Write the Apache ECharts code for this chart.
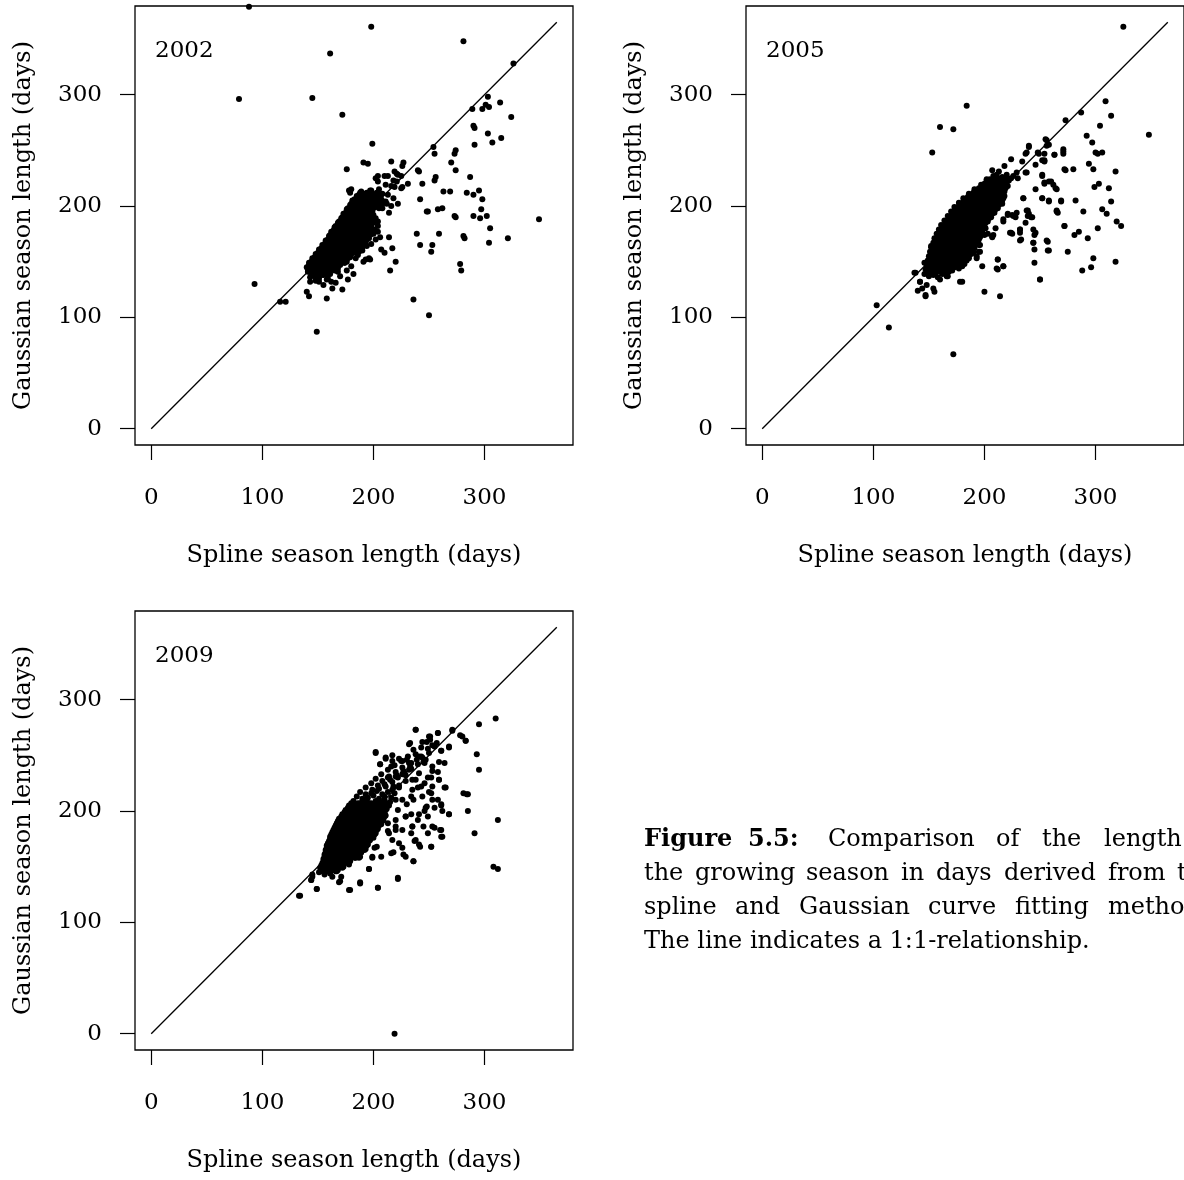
<!DOCTYPE html>
<html><head><meta charset="utf-8">
<script src="https://cdn.jsdelivr.net/npm/echarts@6/dist/echarts.min.js"></script>
<style>html,body{margin:0;padding:0;background:#fff}#c{width:1184px;height:1180px}</style>
</head><body><div id="c"></div>
<script>
const tickValues = [0, 100, 200, 300];
const axisMin = -14.6, axisMax = 379.6;
const oneToOne = [[0, 0], [365, 365]];
const panelYears = ['2002', '2005', '2009'];
const xTitle = 'Spline season length (days)';
const yTitle = 'Gaussian season length (days)';

// [spline length, gaussian length] pairs, 2002
const p2002 = [
[88,379],[198,361],[281,348],[161,337],[326,328],[79,296],[145,297],[172,282],[303,298],[314,293],[301,291],[304,289],[298,287],[289,287],[324,280],[290,272],[291,270],[303,265],[315,261],[307,257],[291,255],[199,256],[254,253],[255,247],[274,250],[273,247],[270,239],[274,232],[287,226],[241,231],[244,220],[255,223],[256,226],[263,213],[269,213],[284,212],[290,210],[295,214],[298,206],[242,206],[249,195],[258,197],[262,198],[297,197],[274,190],[290,191],[296,189],[302,191],[305,180],[349,188],[239,175],[242,165],[253,165],[252,159],[259,175],[281,173],[282,171],[304,167],[321,171],[278,148],[279,142],[236,116],[250,102],[149,87],[93,130],[116,114],[121,114],
[215,142],[220,150],[210,158],[217,162],[207,161],[214,172],[222,202],[176,233],[191,239],[195,238],[216,240],[227,239],[226,236],[219,231],[222,228],[225,227],[202,225],[210,227],[204,222],[231,220],[225,216],[218,223],[178,214],[188,212],[179,212],[196,212],[205,215],[218,207],[212,202],[172,125],[163,126],[158,117],[142,119],[140,123],[143,132],[182,139],[197,152],[191,150],[193,152],
[221,229],[213,227],[204,227],[211,219],[216,218],[221,222],[180,215],[197,214],[213,210],[219,217],[226,217],[273,191],[206,172],[204,177],[196,153],[168,141],[142,147],[141,143],[144,138],[174,149],[184,153],[202,170],[198,182],[204,186],[214,194],[216,200],[211,204],[208,198],[202,203],[151,132],[159,135],[166,131],[177,134],[240,232],[248,195],
[186,156],[190,160],[194,164],[198,166],[180,146],[176,142],[170,137],[162,132],[155,129],[200,175],[204,182],[148,133],[152,140],
// dense core
[143,136],[147,137],[151,135],[155,138],[158,134],
[145,138],[149,139],[153,138],[157,139],
[141,141],[145,140],[149,142],[153,140],[157,141],[161,139],[165,142],
[143,142],[147,143],[151,142],[155,143],[159,142],[163,143],[167,142],
[140,145],[144,144],[148,146],[152,144],[156,145],[160,143],[164,146],[168,144],
[142,146],[146,147],[150,146],[154,147],[158,146],[162,147],[166,146],[170,147],
[142,149],[146,148],[150,150],[154,148],[158,149],[162,147],[166,150],[170,148],[174,149],
[144,150],[148,151],[152,150],[156,151],[160,150],[164,151],[168,150],[172,151],[176,150],
[145,153],[149,152],[153,154],[157,152],[161,153],[165,151],[169,154],[173,152],[177,153],
[147,154],[151,155],[155,154],[159,155],[163,154],[167,155],[171,154],[175,155],[179,154],
[148,157],[152,156],[156,158],[160,156],[164,157],[168,155],[172,158],[176,156],[180,157],
[150,158],[154,159],[158,158],[162,159],[166,158],[170,159],[174,158],[178,159],[182,158],[185,158],
[151,161],[155,160],[159,162],[163,160],[167,161],[171,159],[175,162],[179,160],[183,161],[187,159],
[153,162],[157,163],[161,162],[165,163],[169,162],[173,163],[177,162],[181,163],[185,162],[188,162],
[154,165],[158,164],[162,166],[166,164],[170,165],[174,163],[178,166],[182,164],[186,165],[190,163],
[156,166],[160,167],[164,166],[168,167],[172,166],[176,167],[180,166],[184,167],[188,166],[191,166],
[157,169],[161,168],[165,170],[169,168],[173,169],[177,167],[181,170],[185,168],[189,169],[193,167],
[159,170],[163,171],[167,170],[171,171],[175,170],[179,171],[183,170],[187,171],[191,170],[194,170],
[160,173],[164,172],[168,174],[172,172],[176,173],[180,171],[184,174],[188,172],[192,173],[196,171],
[161,174],[165,175],[169,174],[173,175],[177,174],[181,175],[185,174],[189,175],[193,174],[197,174],
[162,177],[166,176],[170,178],[174,176],[178,177],[182,175],[186,178],[190,176],[194,177],[198,175],
[164,178],[168,179],[172,178],[176,179],[180,178],[184,179],[188,178],[192,179],[196,178],[199,178],
[165,181],[169,180],[173,182],[177,180],[181,181],[185,179],[189,182],[193,180],[197,181],[201,179],
[166,182],[170,183],[174,182],[178,183],[182,182],[186,183],[190,182],[194,183],[198,182],
[168,185],[172,184],[176,186],[180,184],[184,185],[188,183],[192,186],[196,184],[200,185],
[169,186],[173,187],[177,186],[181,187],[185,186],[189,187],[193,186],[197,187],[201,186],
[171,189],[175,188],[179,190],[183,188],[187,189],[191,187],[195,190],[199,188],[202,189],
[172,190],[176,191],[180,190],[184,191],[188,190],[192,191],[196,190],[200,190],
[173,193],[177,192],[181,194],[185,192],[189,193],[193,191],[197,194],[200,192],
[175,194],[179,195],[183,194],[187,195],[191,194],[195,195],[199,195],
[176,197],[180,196],[184,198],[188,196],[192,197],[196,195],[200,198],[204,199],
[177,198],[181,199],[185,198],[189,199],[193,198],[197,199],[201,199],[205,198],
[179,201],[183,200],[187,202],[191,200],[195,201],[199,199],[203,202],[207,200],
[180,202],[184,203],[188,202],[192,203],[196,202],[200,203],[204,203],[208,202],
[181,205],[185,204],[189,206],[193,204],[197,205],[201,203],[205,206],[209,204],
[183,206],[187,207],[191,206],[195,207],[199,206],[203,207],[207,206],
[185,209],[189,208],[193,210],[197,208],[201,209],[205,207],
[187,210],[191,211],[195,210],[199,211],[203,210],[206,210],
[189,213],[194,212],[198,214],[203,212],[208,211]
];

// 2005
const p2005 = [
[325,361],[184,290],[160,271],[172,269],[153,248],[309,294],[314,281],[287,284],[273,277],[304,272],[348,264],[292,263],[297,257],[300,248],[302,247],[306,248],[256,259],[256,254],[240,253],[237,247],[249,247],[254,247],[263,246],[271,249],[271,247],[246,237],[252,241],[254,241],[273,232],[280,233],[294,238],[298,233],[318,231],[237,230],[252,227],[258,222],[262,219],[254,220],[265,215],[246,215],[303,220],[299,217],[312,216],[235,207],[252,207],[258,204],[269,204],[282,205],[314,204],[306,197],[310,193],[289,195],[265,196],[266,194],[239,196],[240,193],[242,190],[221,193],[225,192],[228,190],[237,185],[217,186],[319,186],[323,182],[302,180],[272,182],[285,177],[281,174],[293,171],[223,176],[225,175],[232,179],[232,176],[232,169],[244,179],[245,174],[244,167],[256,169],[245,161],[258,160],[275,159],[245,149],[250,134],[288,142],[296,145],[298,153],[318,150],[212,152],[212,143],[217,146],[198,146],[200,123],[214,119],[193,155],[195,159],[195,165],[201,180],[208,174],[207,172],[200,174],[172,67],[103,111],[114,91],[138,140],[140,124],[144,126],[147,119],[154,126],[155,123],[180,132],[160,134],[148,129],[142,132],[146,149],[152,164],
[137,140],[142,132],[147,120],[178,132],[167,137],[212,152],[211,144],[217,146],[250,134],[193,153],[196,159],[196,165],[207,173],[203,175],[210,180],[217,188],[221,192],[226,191],[229,194],[238,196],[239,191],[243,190],[235,207],[252,207],[258,205],[269,205],[265,195],[272,182],[244,167],[246,176],[257,168],[257,160],[232,179],[233,170],[224,176],[226,227],[230,225],[229,230],[224,242],[234,240],[238,248],[240,254],[248,248],[254,240],[263,246],[255,260],[258,255],[271,251],[272,233],[252,228],[254,221],[260,222],[264,216],[238,230],[211,228],[202,224],[213,231],[218,236],[207,232],
// dense core
[146,139],[150,137],[154,138],[158,136],[162,139],[166,137],
[148,140],[152,141],[156,140],[160,141],[164,140],[168,141],
[147,143],[151,141],[155,142],[159,144],[163,141],[167,143],[171,142],
[149,145],[153,144],[157,145],[161,144],[165,145],[169,144],[173,145],[177,144],
[148,147],[152,145],[156,146],[160,148],[164,145],[168,147],[172,146],[176,148],[180,146],
[150,148],[154,149],[158,148],[162,149],[166,148],[170,149],[174,148],[178,149],[182,148],
[149,151],[153,149],[157,150],[161,152],[165,149],[169,151],[173,150],[177,152],[181,150],[184,151],
[151,152],[155,153],[159,152],[163,153],[167,152],[171,153],[175,152],[179,153],[183,152],[186,153],
[150,155],[154,153],[158,154],[162,156],[166,153],[170,155],[174,154],[178,156],[182,153],[186,155],
[152,156],[156,157],[160,156],[164,157],[168,156],[172,157],[176,156],[180,157],[184,156],[188,157],
[151,159],[155,157],[159,158],[163,160],[167,157],[171,159],[175,158],[179,160],[183,157],[187,159],[190,158],
[153,160],[157,161],[161,160],[165,161],[169,160],[173,161],[177,160],[181,161],[185,160],[189,161],
[152,163],[156,161],[160,162],[164,164],[168,161],[172,163],[176,162],[180,164],[184,161],[188,163],[191,162],
[155,164],[159,165],[163,164],[167,165],[171,164],[175,165],[179,164],[183,165],[187,164],[191,165],
[154,167],[158,165],[162,166],[166,168],[170,165],[174,167],[178,166],[182,168],[186,165],[190,167],[193,166],
[156,168],[160,169],[164,168],[168,169],[172,168],[176,169],[180,168],[184,169],[188,168],[192,169],[194,168],
[155,171],[159,169],[163,170],[167,172],[171,169],[175,171],[179,170],[183,172],[187,169],[191,171],[195,170],
[158,172],[162,173],[166,172],[170,173],[174,172],[178,173],[182,172],[186,173],[190,172],[194,173],[196,172],
[157,175],[161,173],[165,174],[169,176],[173,173],[177,175],[181,174],[185,176],[189,173],[193,175],[197,174],
[160,176],[164,177],[168,176],[172,177],[176,176],[180,177],[184,176],[188,177],[192,176],[196,177],[198,176],
[159,179],[163,177],[167,178],[171,180],[175,177],[179,179],[183,178],[187,180],[191,177],[195,179],[198,178],
[162,180],[166,181],[170,180],[174,181],[178,180],[182,181],[186,180],[190,181],[194,180],[198,181],[200,180],
[161,183],[165,181],[169,182],[173,184],[177,181],[181,183],[185,182],[189,184],[193,181],[197,183],[200,182],
[165,184],[169,185],[173,184],[177,185],[181,184],[185,185],[189,184],[193,185],[197,184],[201,185],
[164,187],[168,185],[172,186],[176,188],[180,185],[184,187],[188,186],[192,188],[196,185],[200,187],[203,186],
[168,188],[172,189],[176,188],[180,189],[184,188],[188,189],[192,188],[196,189],[200,188],[204,189],
[167,191],[171,189],[175,190],[179,192],[183,189],[187,191],[191,190],[195,192],[199,189],[203,191],[206,190],
[171,192],[175,193],[179,192],[183,193],[187,192],[191,193],[195,192],[199,193],[203,192],[207,193],
[170,195],[174,193],[178,194],[182,196],[186,193],[190,195],[194,194],[198,196],[202,193],[206,195],[209,194],
[174,196],[178,197],[182,196],[186,197],[190,196],[194,197],[198,196],[202,197],[206,196],[210,197],
[173,199],[177,197],[181,198],[185,200],[189,197],[193,199],[197,198],[201,200],[205,197],[209,199],[212,198],
[177,200],[181,201],[185,200],[189,201],[193,200],[197,201],[201,200],[205,201],[209,200],[213,201],
[177,203],[181,201],[185,202],[189,204],[193,201],[197,203],[201,202],[205,204],[209,201],[213,203],[216,202],
[181,204],[185,205],[189,204],[193,205],[197,204],[201,205],[205,204],[209,205],[213,204],[216,205],
[181,207],[185,205],[189,206],[193,208],[197,205],[201,207],[205,206],[209,208],[213,205],[217,207],
[185,208],[189,209],[193,208],[197,209],[201,208],[205,209],[209,208],[213,209],[217,208],
[186,211],[190,209],[194,210],[198,212],[202,209],[206,211],[210,210],[214,212],[218,209],
[190,212],[194,213],[198,212],[202,213],[206,212],[210,213],[214,212],[218,213],
[191,215],[195,213],[199,214],[203,216],[207,213],[211,215],[215,214],[219,216],
[195,216],[199,217],[203,216],[207,217],[211,216],[215,217],[219,217],
[197,219],[201,217],[205,218],[209,220],[213,217],[217,219],[221,218],
[200,220],[204,221],[208,220],[212,221],[216,220],[220,221],
[202,223],[206,221],[210,222],[214,224],[218,221],[222,223],
[205,224],[209,225],[213,224],[217,225],[221,224],
[208,227],[212,225],[216,226],[220,228],[224,225]
];

// 2009
const p2009 = [
[219,0],[134,124],[149,130],[145,141],[144,138],[178,129],[188,136],[204,131],[222,140],[196,148],[236,155],[308,150],[312,148],[312,192],[291,180],[285,200],[284,215],[285,215],[281,216],[295,237],[293,251],[295,278],[310,283],[280,267],[283,263],[271,273],[268,257],[261,254],[258,270],[251,267],[238,273],[233,261],[202,252],[265,221],[268,197],[261,177],[252,168],[260,183],[255,185],[218,163],[227,161],[203,168],[199,158],[170,137],[163,141],[154,146],[171,150],[187,158],[213,182],[220,183],[237,173],[242,168],[249,180],[246,200],[248,204],[252,216],[259,228],[264,243],[253,236],[246,243],[243,249],[230,246],[217,245],[211,248],[206,242],[226,233],[218,222],[235,219],[236,210],[230,206],[229,195],[235,186],[240,192],[222,201],[220,210],[243,222],[253,222],[249,230],[241,234],[232,237],[235,228],[258,210],[261,206],
[238,273],[258,270],[250,267],[271,272],[278,268],[283,263],[232,260],[248,262],[253,259],[261,254],[268,258],[202,253],[211,247],[217,250],[223,247],[206,242],[216,240],[226,245],[234,243],[241,249],[247,246],[253,240],[259,244],[258,235],[259,228],[252,230],[246,225],[238,228],[229,232],[220,231],[213,230],[264,221],[250,217],[244,213],[240,221],[234,213],[226,210],[253,210],[261,205],[262,200],[268,197],[255,203],[247,203],[241,197],[234,197],[229,195],[220,192],[249,195],[235,186],[245,186],[253,186],[261,183],[262,177],[252,168],[241,170],[238,174],[234,180],[226,183],[220,186],[214,180],[213,189],[217,174],[223,171],[226,167],[229,159],[236,155],[216,162],[201,167],[207,159],[199,159],[196,148],[188,135],[179,129],[204,131],[222,139],[171,141],[169,136],[149,130],[144,138],[145,143],[133,124],
// dense core
[151,145],[156,143],[161,144],[166,146],
[153,147],[158,146],[163,147],[167,146],
[152,149],[156,147],[160,148],[164,150],[168,147],[172,149],
[153,151],[157,150],[161,151],[165,150],[169,151],[173,150],
[154,153],[158,151],[162,152],[166,154],[170,151],[174,153],[178,152],
[155,155],[159,154],[163,155],[167,154],[171,155],[175,154],[179,155],
[155,157],[159,155],[163,156],[167,158],[171,155],[175,157],[179,156],[183,158],
[156,159],[160,158],[164,159],[168,158],[172,159],[176,158],[180,159],[184,158],
[156,161],[160,159],[164,160],[168,162],[172,159],[176,161],[180,160],[184,162],[188,159],
[157,163],[161,162],[165,163],[169,162],[173,163],[177,162],[181,163],[185,162],[189,163],
[157,165],[161,163],[165,164],[169,166],[173,163],[177,165],[181,164],[185,166],[189,163],[192,165],
[158,167],[162,166],[166,167],[170,166],[174,167],[178,166],[182,167],[186,166],[190,167],[193,166],
[158,169],[162,167],[166,168],[170,170],[174,167],[178,169],[182,168],[186,170],[190,167],[194,169],
[159,171],[163,170],[167,171],[171,170],[175,171],[179,170],[183,171],[187,170],[191,171],[195,170],
[160,173],[164,171],[168,172],[172,174],[176,171],[180,173],[184,172],[188,174],[192,171],[196,173],
[161,175],[165,174],[169,175],[173,174],[177,175],[181,174],[185,175],[189,174],[193,175],[197,174],
[161,177],[165,175],[169,176],[173,178],[177,175],[181,177],[185,176],[189,178],[193,175],[197,177],[200,176],
[162,179],[166,178],[170,179],[174,178],[178,179],[182,178],[186,179],[190,178],[194,179],[198,178],[201,179],
[163,181],[167,179],[171,180],[175,182],[179,179],[183,181],[187,180],[191,182],[195,179],[199,181],[202,180],
[164,183],[168,182],[172,183],[176,182],[180,183],[184,182],[188,183],[192,182],[196,183],[200,182],[203,183],
[165,185],[169,183],[173,184],[177,186],[181,183],[185,185],[189,184],[193,186],[197,183],[201,185],[204,184],
[166,187],[170,186],[174,187],[178,186],[182,187],[186,186],[190,187],[194,186],[198,187],[202,186],[205,187],
[167,189],[171,187],[175,188],[179,190],[183,187],[187,189],[191,188],[195,190],[199,187],[203,189],[207,188],
[168,191],[172,190],[176,191],[180,190],[184,191],[188,190],[192,191],[196,190],[200,191],[204,190],[208,191],
[169,193],[173,191],[177,192],[181,194],[185,191],[189,193],[193,192],[197,194],[201,191],[205,193],[209,192],
[171,195],[175,194],[179,195],[183,194],[187,195],[191,194],[195,195],[199,194],[203,195],[207,194],[210,195],
[172,197],[176,195],[180,196],[184,198],[188,195],[192,197],[196,196],[200,198],[204,195],[208,197],[211,196],
[174,199],[178,198],[182,199],[186,198],[190,199],[194,198],[198,199],[202,198],[206,199],[210,198],
[175,201],[179,199],[183,200],[187,202],[191,199],[195,201],[199,200],[203,202],[207,199],[211,201],
[177,203],[181,202],[185,203],[189,202],[193,203],[197,202],[201,203],[205,202],[209,203],[212,202],
[178,205],[182,203],[186,204],[190,206],[194,203],[198,205],[202,204],[206,206],[210,203],[214,205],
[180,207],[184,206],[188,207],[192,206],[196,207],[200,206],[204,207],[208,206],[212,207],
[182,209],[186,207],[190,208],[194,210],[198,207],[202,209],[206,208],[210,210],[215,208],
[185,213],[190,211],[195,212],[200,214],[205,211],[210,213],[216,212],
[188,217],[193,215],[198,216],[203,218],[208,215],[213,217],[219,216],
[193,221],[199,219],[205,220],[211,222],[217,219],[223,221],
[198,225],[204,223],[210,224],[217,226],[223,223],
[202,229],[208,227],[215,228],[222,230],[229,227],
[207,233],[214,231],[221,232],[228,234],
[213,237],[220,235],[227,236],[234,238],
[219,241],[226,239],[233,240],[240,242],
[225,245],[232,243],[239,246],[245,244],
[231,249],[238,251],[244,248],[250,252],
[236,255],[243,257],[249,256],[255,258],
[244,262],[251,264],[257,261]
];

const panelData = [p2002, p2005, p2009];
const FONT = 'DejaVu Serif';
const grids = [
  {left: 135, top: 6, width: 438, height: 439},
  {left: 746, top: 6, width: 438, height: 439},
  {left: 135, top: 611, width: 438, height: 439}
].map(g => Object.assign(g, {show: true, borderColor: '#000', borderWidth: 1.3, backgroundColor: 'transparent'}));

const xAxes = [], yAxes = [], series = [];
panelData.forEach((d, i) => {
  xAxes.push({
    gridIndex: i, type: 'value', min: axisMin, max: axisMax, position: 'bottom',
    axisLine: {show: false, onZero: false},
    axisTick: {show: true, customValues: tickValues, length: 15, inside: false, lineStyle: {color: '#000', width: 1.2}},
    axisLabel: {customValues: tickValues, margin: 42, fontSize: 23, fontFamily: FONT, color: '#000'},
    splitLine: {show: false},
    name: xTitle, nameLocation: 'middle', nameGap: 99,
    nameTextStyle: {fontSize: 24, fontFamily: FONT, color: '#000'}
  });
  yAxes.push({
    gridIndex: i, type: 'value', min: axisMin, max: axisMax, position: 'left',
    axisLine: {show: false, onZero: false},
    axisTick: {show: true, customValues: tickValues, length: 15, inside: false, lineStyle: {color: '#000', width: 1.2}},
    axisLabel: {customValues: tickValues, margin: 33, fontSize: 23, fontFamily: FONT, color: '#000'},
    splitLine: {show: false},
    name: yTitle, nameLocation: 'middle', nameGap: 99, nameRotate: 90,
    nameTextStyle: {fontSize: 24, fontFamily: FONT, color: '#000'}
  });
  series.push({
    type: 'line', xAxisIndex: i, yAxisIndex: i, data: oneToOne, symbol: 'none', silent: true,
    lineStyle: {color: '#000', width: 1.3}, z: 2
  });
  series.push({
    type: 'scatter', xAxisIndex: i, yAxisIndex: i, data: d, symbolSize: 6,
    itemStyle: {color: '#000', opacity: 1}, z: 3
  });
});

const labelPos = [[155, 51], [766, 51], [155, 656]];
const graphic = panelYears.map((t, i) => ({
  type: 'text', x: labelPos[i][0], y: labelPos[i][1],
  style: {text: t, fontSize: 23, fontFamily: FONT, fill: '#000', verticalAlign: 'middle'}
}));

// caption words: [x, line y, text, bold]
const captionWords = [
  [644, 840, 'Figure', true], [748, 840, '5.5:', true], [828, 840, 'Comparison'], [996, 840, 'of'], [1042, 840, 'the'], [1104, 840, 'length'], [1205, 840, 'of'],
  [644, 874, 'the'], [695, 874, 'growing'], [806, 874, 'season'], [901, 874, 'in'], [936, 874, 'days'], [1004, 874, 'derived'], [1108, 874, 'from'], [1177, 874, 'the'],
  [644, 908, 'spline'], [735, 908, 'and'], [799, 908, 'Gaussian'], [928, 908, 'curve'], [1015, 908, 'fitting'], [1108, 908, 'methods.'],
  [644, 942, 'The line indicates a 1:1-relationship.']
];
captionWords.forEach(w => graphic.push({
  type: 'text', x: w[0], y: w[1],
  style: {text: w[2], fontSize: 24, fontFamily: FONT, fontWeight: w[3] ? 'bold' : 'normal', fill: '#000', verticalAlign: 'middle'}
}));

const chart = echarts.init(document.getElementById('c'), null, {renderer: 'canvas'});
chart.setOption({
  animation: false,
  backgroundColor: '#fff',
  grid: grids, xAxis: xAxes, yAxis: yAxes, series: series, graphic: graphic
});
</script></body></html>
